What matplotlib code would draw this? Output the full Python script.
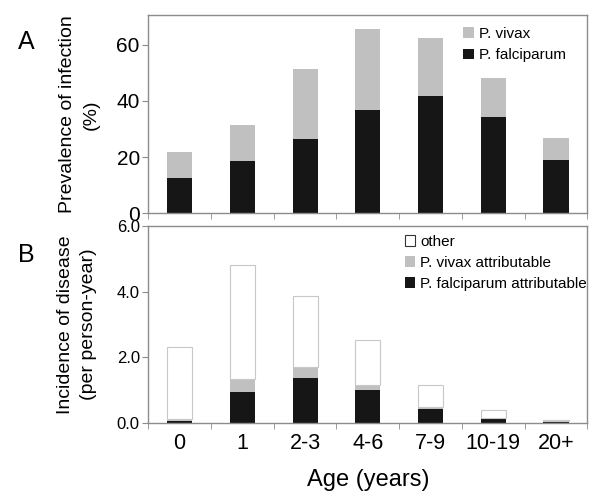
import numpy as np
import matplotlib.pyplot as plt
from matplotlib.ticker import FormatStrFormatter

plt.rcParams['font.family'] = ['Liberation Sans', 'DejaVu Sans']

ages = ['0', '1', '2-3', '4-6', '7-9', '10-19', '20+']

# panel A: prevalence of infection (%)
prev_falc = [12.7, 18.5, 26.6, 36.7, 41.7, 34.4, 18.9]
prev_total = [21.9, 31.6, 51.5, 65.6, 62.5, 48.1, 26.8]

# panel B: incidence of disease (per person-year), cumulative tops
inc_falc = [0.07, 0.94, 1.36, 1.00, 0.44, 0.14, 0.05]
inc_vivax_top = [0.13, 1.33, 1.70, 1.17, 0.50, 0.15, 0.06]
inc_total = [2.31, 4.83, 3.88, 2.52, 1.17, 0.40, 0.10]

black = '#161616'
grey = '#c0c0c0'
spine = '#8c8c8c'

prev_viv = np.array(prev_total) - np.array(prev_falc)
inc_viv = np.array(inc_vivax_top) - np.array(inc_falc)
inc_oth = np.array(inc_total) - np.array(inc_vivax_top)

x = np.arange(len(ages))
w = 0.4

fig = plt.figure(figsize=(6, 4.97), dpi=100)
axA = fig.add_axes([0.247, 0.571, 0.732, 0.398])
axB = fig.add_axes([0.247, 0.149, 0.732, 0.396])

def style(ax):
    for s in ax.spines.values():
        s.set_color(spine)
        s.set_linewidth(1.0)
    ax.set_xlim(-0.5, len(ages) - 0.5)
    ax.set_xticks(np.arange(len(ages) + 1) - 0.5, minor=True)
    ax.tick_params(axis='x', which='minor', length=4, color=spine, direction='out')
    ax.tick_params(axis='y', length=4, color=spine, direction='out', pad=2)

# A
axA.bar(x, prev_falc, w, color=black, label='P. falciparum')
axA.bar(x, prev_viv, w, bottom=prev_falc, color=grey, label='P. vivax')
style(axA)
axA.set_ylim(0, 70.5)
axA.set_yticks([0, 20, 40, 60])
axA.set_xticks([])
axA.tick_params(axis='y', labelsize=15)
axA.set_ylabel('Prevalence of infection\n(%)', fontsize=14, linespacing=1.5, labelpad=12)
h, l = axA.get_legend_handles_labels()
axA.legend(h[::-1], l[::-1], loc='upper right', bbox_to_anchor=(0.985, 1.02), frameon=False,
           fontsize=11, handlelength=0.7, handleheight=0.7, handletextpad=0.3,
           labelspacing=0.5, borderpad=0.5)

# B
axB.bar(x, inc_falc, w, color=black, label='P. falciparum attributable')
axB.bar(x, inc_viv, w, bottom=inc_falc, color=grey, label='P. vivax attributable')
axB.bar(x, inc_oth, w, bottom=inc_vivax_top, color='white', edgecolor='#c8c8c8',
        linewidth=0.8, label='other')
style(axB)
axB.set_ylim(0, 6.0)
axB.set_yticks([0, 2, 4, 6])
axB.yaxis.set_major_formatter(FormatStrFormatter('%.1f'))
axB.tick_params(axis='y', labelsize=12)
axB.set_xticks(x)
axB.set_xticklabels(ages, fontsize=15.5)
axB.tick_params(axis='x', which='major', length=0, pad=7)
axB.set_ylabel('Incidence of disease\n(per person-year)', fontsize=14, linespacing=1.5, labelpad=14)
axB.set_xlabel('Age (years)', fontsize=17, labelpad=11)
h, l = axB.get_legend_handles_labels()
leg = axB.legend(h[::-1], l[::-1], loc='upper right', bbox_to_anchor=(1.03, 1.025), frameon=False,
                 fontsize=11, handlelength=0.7, handleheight=0.7, handletextpad=0.3,
                 labelspacing=0.45, borderpad=0.4)
leg.legend_handles[0].set_edgecolor('#333333')

fig.text(0.03, 0.915, 'A', fontsize=18, va='center')
fig.text(0.03, 0.487, 'B', fontsize=18, va='center')

plt.savefig('out.png', dpi=100)
